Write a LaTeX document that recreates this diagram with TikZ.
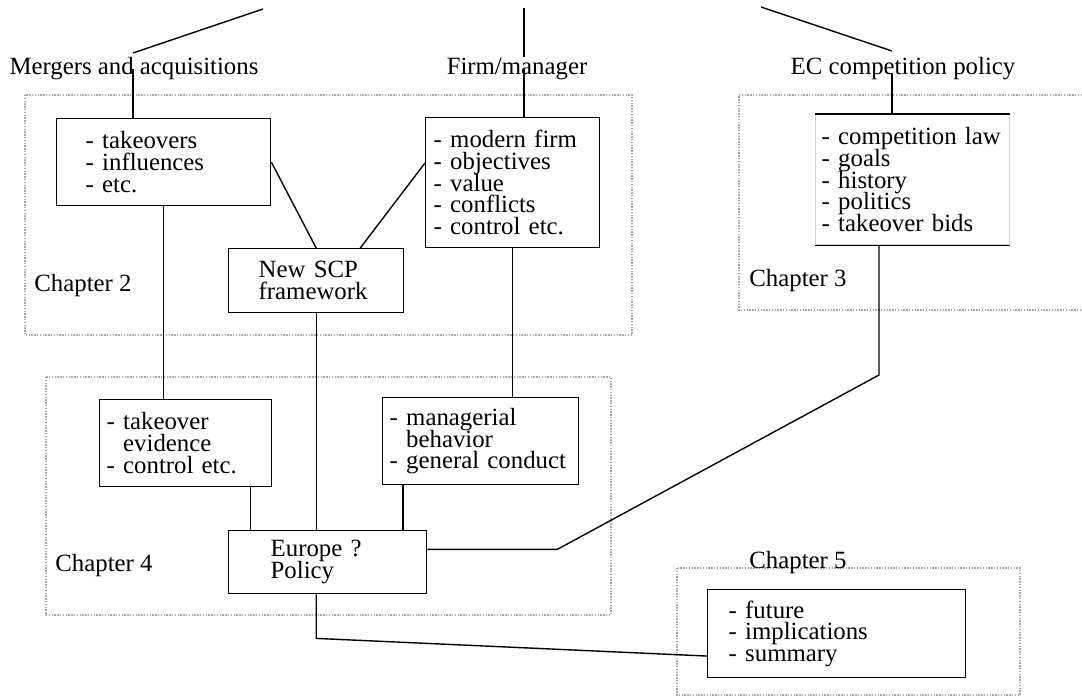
\documentclass[tikz,border=0pt]{standalone}
\usepackage{fontspec}
\setmainfont{Liberation Serif}
\usepackage{tikz}
\usetikzlibrary{calc}
\newcommand{\boxpad}{\par\vspace{8pt}}

\begin{document}
\begin{tikzpicture}[
  x=0.5pt,y=-0.5pt,
  font={\fontsize{12.4}{10.85}\selectfont\lineskiplimit=-20pt},
  box/.style={draw,line width=0.7pt,anchor=north west,align=left,inner ysep=0pt},
  frame/.style={gray!70,line width=0.6pt,dash pattern=on 0.7pt off 0.7pt},
  lnk/.style={line width=0.7pt},
  hd/.style={anchor=base,inner sep=0pt},
  chap/.style={anchor=base west,inner sep=0pt}]
\useasboundingbox (0,0) rectangle (1082,696);
% chapter frames
\draw[frame] (25,95) rectangle (632,335);
\draw[frame] (1082,95) -- (739,95) -- (739,310) -- (1082,310);
\draw[frame] (46,377) rectangle (611,615);
\draw[frame] (677,568) rectangle (1020,695);
\node[chap] (c2) at (34,291) {Chapter 2};
\node[chap] (c3) at (749,286) {Chapter 3};
\node[chap] (c4) at (55,571) {Chapter 4};
\node[chap] (c5) at (749,568) {Chapter 5};
% headings
\node[hd] (ma) at (134,74) {Mergers and acquisitions};
\node[hd] (fm) at (517,74) {Firm/manager};
\node[hd] (ec) at (903,74) {EC competition policy};
% boxes
\node[box,inner xsep=14.5pt,text width=78pt,minimum height=43.5pt] (tko) at (56,118)
   {- takeovers\\- influences\\- etc.\boxpad};
\node[box,inner xsep=4pt,text width=79pt,minimum height=65pt] (firm) at (425,117)
   {- modern firm\\- objectives\\- value\\- conflicts\\- control etc.\boxpad};
\node[box,inner xsep=15pt,text width=57.5pt,minimum height=32pt] (scp) at (228,248)
   {New SCP\\framework\boxpad};
\node[box,draw=gray!35,inner xsep=3pt,text width=91pt,minimum height=65pt] (comp) at (815,114)
   {- competition law\\- goals\\- history\\- politics\\- takeover bids\boxpad};
\draw[lnk] (comp.north west) -- (comp.north east);
\draw[lnk] (comp.south west) -- (comp.south east);
\node[box,inner xsep=3.5pt,text width=79pt,minimum height=43.5pt] (tkev) at (99,399)
   {- takeover\\\phantom{- }evidence\\- control etc.\boxpad};
\node[box,inner xsep=3.5pt,text width=91pt,minimum height=43.5pt] (mgr) at (382,397)
   {- managerial\\\phantom{- }behavior\\- general conduct\boxpad};
\node[box,inner xsep=21pt,text width=57pt,minimum height=31.5pt] (eur) at (228,530)
   {Europe ?\\Policy\boxpad};
\node[box,inner xsep=10.5pt,text width=108pt,minimum height=44pt] (fut) at (707,589)
   {- future\\- implications\\- summary\boxpad};
% lines from the headings
\coordinate (ltop) at (263,9);
\coordinate (lbend) at (133,53);
\draw[lnk] (ltop) -- (lbend);
\draw[lnk] (lbend |- ma.mid) -- (lbend |- tko.north);
\coordinate (mtop) at (524,8);
\draw[lnk] (mtop) -- (mtop |- fm.north);
\draw[lnk] (mtop |- fm.mid) -- (mtop |- firm.north);
\coordinate (rtop) at (761,7);
\coordinate (rbend) at (892,51);
\draw[lnk] (rtop) -- (rbend);
\draw[lnk] (rbend |- ec.base) -- (rbend |- comp.north);
% links between boxes
\draw[lnk] (tko.south) -- (tko.south |- tkev.north);
\draw[lnk] (tko.east) -- (scp.north);
\draw[lnk] ($(firm.north west)!0.35!(firm.south west)$) -- ($(scp.north west)!0.75!(scp.north east)$);
\draw[lnk] (scp.south) -- (scp.south |- eur.north);
\draw[lnk] (firm.south) -- (firm.south |- mgr.north);
\coordinate (tkx) at ([xshift=-11pt]tkev.south east);
\draw[lnk] (tkx) -- (tkx |- eur.north);
\coordinate (mgx) at ([xshift=10.5pt]mgr.south west);
\draw[lnk] (mgx) -- (mgx |- eur.north);
\coordinate (eurR) at ($(eur.north east)!0.3!(eur.south east)$);
\coordinate (cbend) at (879,375);
\draw[lnk] (eurR) -- ++(130,0) -- (cbend) -- (cbend |- comp.south);
\draw[lnk] (scp.south |- eur.south) -- ++(0,44) -- ($(fut.north west)!0.75!(fut.south west)$);
\end{tikzpicture}
\end{document}
